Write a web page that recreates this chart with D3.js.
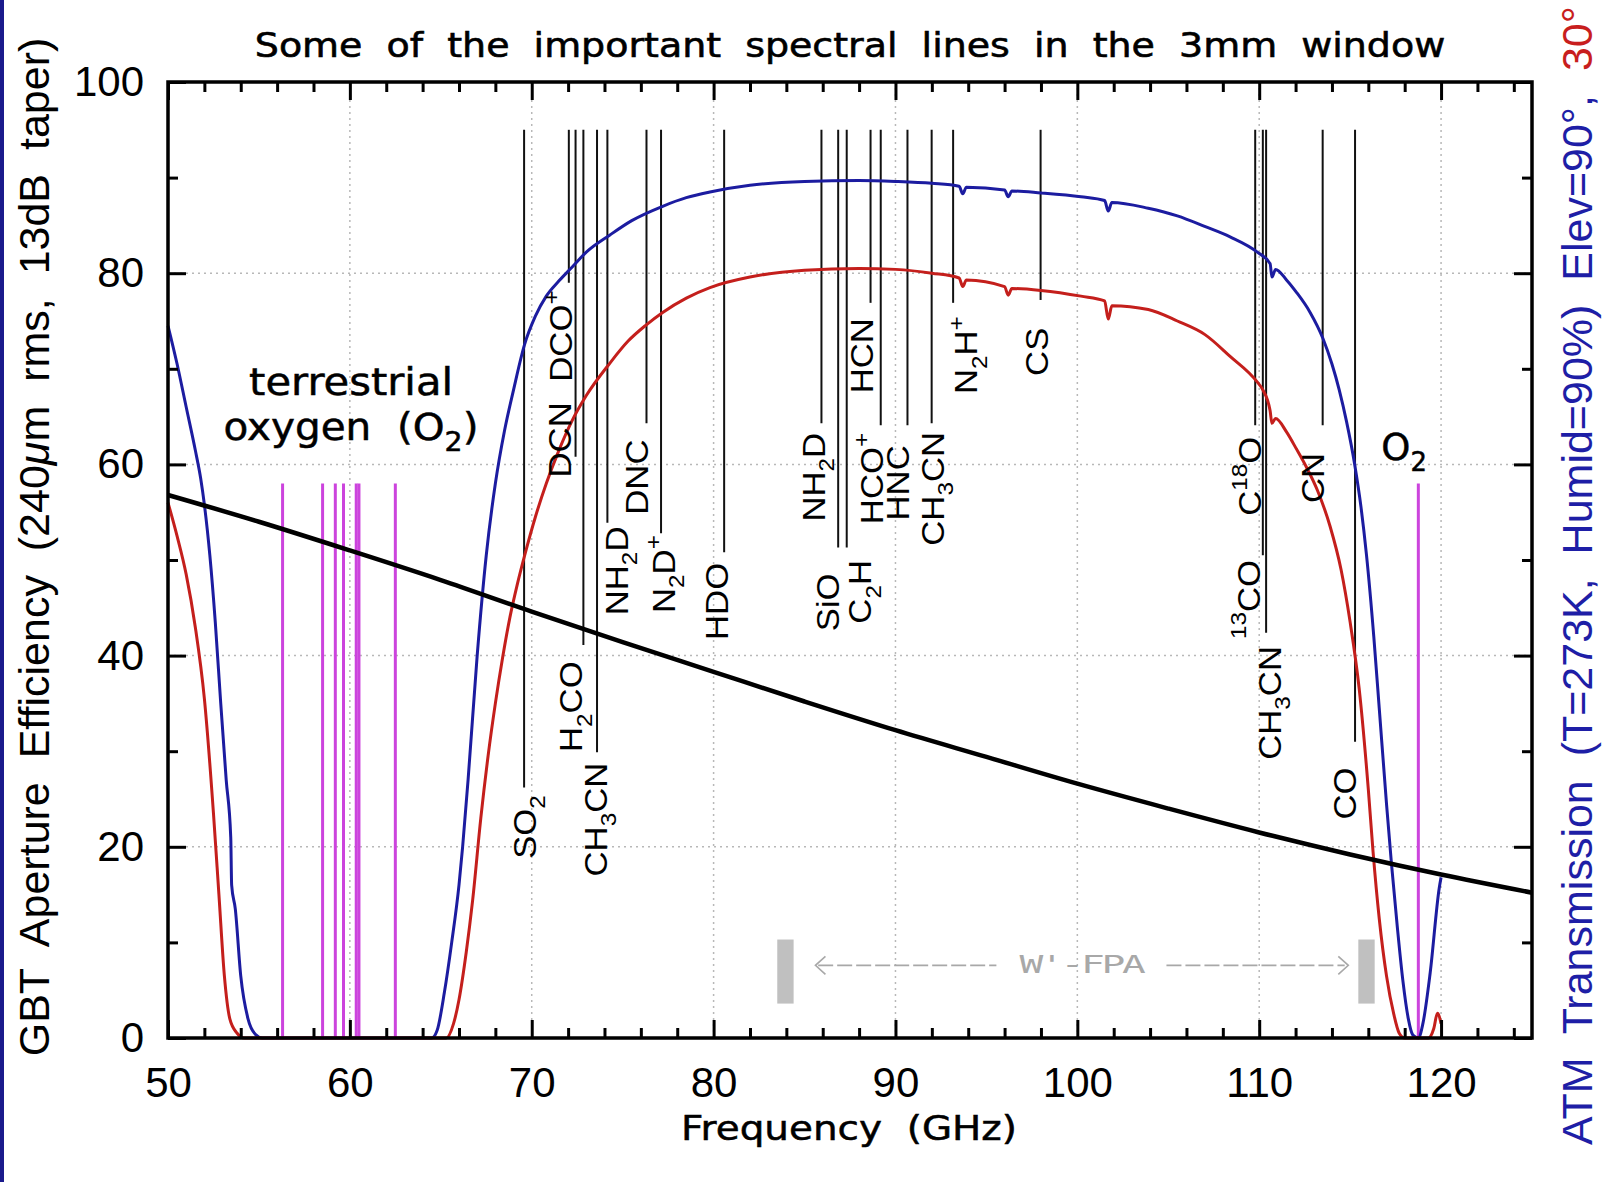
<!DOCTYPE html>
<html><head><meta charset="utf-8">
<script src="https://cdn.jsdelivr.net/npm/d3@7"></script>
<style>html,body{margin:0;padding:0;background:#fff;} svg{display:block;} text{white-space:pre;}</style>
</head><body>
<svg id="chart" width="1614" height="1182"></svg>
<script>
// ---------------- DATA ----------------
const effFreq   = [50,55,60,65,70,75,80,85,90,95,100,105,110,115,120,125];
const effValues = [56.8,54.0,51.0,47.9,44.6,41.4,38.3,35.2,32.2,29.4,26.6,24.0,21.5,19.2,17.1,15.2];

const atm90Freq = [50,50.5,51,51.5,51.8,52,52.3,52.6,52.9,53.2,53.45,53.5,53.7,54,54.4,54.8,55.2,
  64.5,64.8,65.2,65.6,66,66.2,66.5,67,67.5,68,68.5,69,69.6,70.2,70.8,71.5,72.2,73,74.3,75.5,77.2,78.5,79.8,82,85,88,90,92,
  93.5,93.7,93.9,96,96.2,96.4,98,100.2,101.5,101.7,101.9,103.9,105.5,107,108.4,109.9,110.6,110.7,110.9,
  111.5,112.05,112.8,113.5,114,114.4,114.8,115.25,115.6,115.9,116.3,116.6,117,117.27,117.6,117.9,118.2,118.45,118.75,119,119.4,119.9,120];
const atm90Values = [74.5,70.5,66,61.5,58.5,55.8,50.5,43.5,35,27,21,16,13.5,6.5,2,0.4,0,
  0,0.8,4.8,10,16,20,27,40,50.5,58,63.5,67.8,72.5,75.5,77.6,79.2,80.6,82.2,84,85.5,87,87.9,88.5,89.2,89.6,89.7,89.6,89.4,
  89.1,88.3,89,88.7,88,88.6,88.4,88,87.6,86.5,87.4,86.8,86,84.9,83.8,82.2,81,79.6,80.4,
  79.3,78,75.9,73.2,70.5,67.8,64.5,60,55.5,50.5,42,34.5,24.5,18.3,11.5,6,2,0.3,0,1.5,6.8,15.7,16.8];

const atm30Freq = [50,50.5,51,51.5,52,52.5,52.8,53.1,53.4,53.8,54.2,
  65.3,65.7,66,66.4,66.75,67.2,67.6,68,68.4,68.8,69.2,69.6,70.2,70.8,71.5,72.2,73,74.3,75.3,76.3,77.2,78.5,79.8,82,85,88,90,92,
  93.5,93.7,93.9,96,96.2,96.4,98,100.2,101.5,101.7,101.9,103.9,105.5,107,108.4,109.9,110.2,110.6,110.7,110.9,
  111.5,112.05,112.6,113.2,113.9,114.5,115,115.5,116,116.26,116.6,117,117.4,117.7,118,119.3,119.6,119.8,120];
const atm30Values = [56,52.5,48.5,43,35.5,23.5,15,6.5,2,0.5,0,
  0,1.5,4,9,14.4,23,29.5,35,39.8,44,47.4,50.4,54.5,58,61.5,64.5,67.2,70.6,72.9,74.6,75.9,77.4,78.5,79.6,80.3,80.5,80.4,80,
  79.5,78.6,79.3,78.6,77.7,78.4,78.2,77.6,77.1,75.2,76.6,76.2,75,73.6,71.3,68.6,67.8,65.6,64.3,64.8,
  63.4,61.6,59.7,57.3,53.5,49,43.5,36.5,26,19.5,12.5,6.5,2.5,0.5,0,0,1,2.6,1.5];

const o2Freq   = [56.3,58.5,59.2,59.65,60.35,60.5,62.5,118.75];
const o2Height = 58;

const molFreq      = [69.58,72.04,72.41,72.84,73.59,74.16,76.31,77.11,80.58,85.93,86.85,87.32,88.63,89.19,90.66,91.99,93.17,97.98,109.78,110.20,110.38,113.49,115.27];
const molNames     = ["SO_2","DCO^+","DCN","H_2CO","CH_3CN","NH_2D","DNC","N_2D^+","HDO","NH_2D","SiO","C_2H","HCN","HCO^+","HNC","CH_3CN","N_2H^+","CS","C^{18}O","^{13}CO","CH_3CN","CN","CO"];
const molLineEnd   = [26.2,79.0,60.8,41.1,29.9,53.9,64.3,52.8,50.8,64.3,51.3,51.3,76.9,64.1,64.1,64.3,76.9,77.2,64.1,50.5,42.4,64.1,31.0];
const molLabelTop  = [25.4,78.2,66.5,39.4,28.8,53.5,62.6,52.6,49.7,63.3,48.6,50.0,75.3,63.3,62.0,63.4,75.5,74.3,62.9,50.0,41.0,61.2,28.3];
const molLabelFreq = [69.63,71.63,71.55,72.18,73.53,74.66,75.81,77.27,80.2,85.51,86.31,88.07,88.18,88.7,90.13,92.06,93.9,97.75,109.5,109.43,110.58,112.95,114.7];
const molLineTop   = 95;

const fpaBands = [[83.5,84.4],[115.45,116.35]];
const fpaBandRange = [3.6,10.3];

const xMajor = [50,60,70,80,90,100,110,120];
const xTickLabels = ["50","60","70","80","90","100","110","120"];
const xMinor = d3.range(52,125,2).filter(v => v % 10 !== 0);
const yMajor = [0,20,40,60,80,100];
const yTickLabels = ["0","20","40","60","80","100"];
const yMinor = [10,30,50,70,90];
const xGrid = [60,70,80,90,100,110,120];
const yGrid = [20,40,60,80];

const titleText = "Some  of  the  important  spectral  lines  in  the  3mm  window";
const xLabelText = "Frequency  (GHz)";
const yLabelParts = [["GBT  Aperture  Efficiency  (240","normal"],["\u03bc","italic"],["m  rms,  13dB  taper)","normal"]];
const rightLabelParts = [["ATM  Transmission  (T=273K,  Humid=90%)  Elev=90\u00b0,  ","#1e1ea6"],["30\u00b0","#c81e1e"]];

// ---------------- DRAW ----------------
const svg = d3.select("#chart");
const x = d3.scaleLinear().domain([50,125]).range([168,1532]);
const y = d3.scaleLinear().domain([0,100]).range([1038,82]);

const BLUE = "#1c1ca0", RED = "#c41f1c", MAG = "#cc44dd";
const SANS = "'Liberation Sans', Arial, Helvetica, sans-serif";
const HERSHEY = "'DejaVu Sans', 'Liberation Sans', sans-serif";

svg.append("rect").attr("width",1614).attr("height",1182).attr("fill","#fff");
svg.append("rect").attr("x",0).attr("y",0).attr("width",4).attr("height",1182).attr("fill","#1a1a8c");

// grid
const grid = svg.append("g").attr("stroke","#b8b8b8").attr("stroke-width",1.5).attr("stroke-dasharray","2,4");
grid.selectAll(".gx").data(xGrid).join("line").attr("x1",d=>x(d)).attr("x2",d=>x(d)).attr("y1",y(0)).attr("y2",y(100));
grid.selectAll(".gy").data(yGrid).join("line").attr("y1",d=>y(d)).attr("y2",d=>y(d)).attr("x1",x(50)).attr("x2",x(125));

// W'-FPA bands
svg.append("g").selectAll("rect").data(fpaBands).join("rect")
  .attr("x",d=>x(d[0])).attr("width",d=>x(d[1])-x(d[0]))
  .attr("y",y(fpaBandRange[1])).attr("height",y(fpaBandRange[0])-y(fpaBandRange[1]))
  .attr("fill","#c0c0c0");

function fitText(g, target){
  const t = g.select("text");
  const w = t.node().getBBox().width;
  t.attr("transform", `scale(${target/w},1)`);
}
// W'-FPA annotation
{
  const FPA = "#a8a8a8";
  const ay = y(7.6);
  const fg = svg.append("g").attr("stroke",FPA).attr("stroke-width",1.6).attr("fill","none");
  fg.append("line").attr("x1",x(85.75)).attr("x2",x(95.55)).attr("y1",ay).attr("y2",ay).attr("stroke-dasharray","15,4");
  fg.append("line").attr("x1",x(104.9)).attr("x2",x(114.7)).attr("y1",ay).attr("y2",ay).attr("stroke-dasharray","15,4");
  fg.append("path").attr("d",`M${x(85.6)+10},${ay-9} L${x(85.6)},${ay} L${x(85.6)+10},${ay+9}`);
  fg.append("path").attr("d",`M${x(114.9)-10},${ay-9} L${x(114.9)},${ay} L${x(114.9)-10},${ay+9}`);
  const g = svg.append("g").attr("transform",`translate(${(x(96.7)+x(103.7))/2},${y(6.8)})`);
  g.append("text").attr("text-anchor","middle").attr("font-family","'DejaVu Sans Mono', monospace")
    .attr("font-size",24).attr("letter-spacing",-2).attr("fill",FPA).text("W'-FPA");
  fitText(g, x(103.7)-x(96.7));
}

// O2 magenta lines
svg.append("g").selectAll("line").data(o2Freq).join("line")
  .attr("x1",d=>x(d)).attr("x2",d=>x(d)).attr("y1",y(0)).attr("y2",y(o2Height))
  .attr("stroke",MAG).attr("stroke-width",3);

// molecular lines
svg.append("g").selectAll("line").data(molFreq).join("line")
  .attr("x1",d=>x(d)).attr("x2",d=>x(d)).attr("y1",y(molLineTop)).attr("y2",(d,i)=>y(molLineEnd[i]))
  .attr("stroke","#111").attr("stroke-width",2);

// curves
const line = d3.line().x(d=>x(d[0])).y(d=>y(d[1])).curve(d3.curveMonotoneX);
svg.append("path").datum(d3.zip(atm90Freq, atm90Values)).attr("d",line)
  .attr("fill","none").attr("stroke",BLUE).attr("stroke-width",3);
svg.append("path").datum(d3.zip(atm30Freq, atm30Values)).attr("d",line)
  .attr("fill","none").attr("stroke",RED).attr("stroke-width",3);
svg.append("path").datum(d3.zip(effFreq, effValues)).attr("d",line.curve(d3.curveCatmullRom))
  .attr("fill","none").attr("stroke","#000").attr("stroke-width",4.5);

// rich text helper
function parseLabel(s){
  const parts=[]; let i=0;
  while(i<s.length){
    const c=s[i];
    if(c==='_'||c==='^'){
      let t;
      if(s[i+1]==='{'){ const j=s.indexOf('}',i); t=s.slice(i+2,j); i=j+1; }
      else { t=s[i+1]; i+=2; }
      parts.push({t, shift: c==='_'?1:-1});
    } else {
      let j=i; while(j<s.length && s[j]!=='_' && s[j]!=='^') j++;
      parts.push({t:s.slice(i,j), shift:0}); i=j;
    }
  }
  return parts;
}
function addRich(textSel, str, fs){
  let cur=0;
  parseLabel(str).forEach(p=>{
    const target = p.shift===1 ? 0.3*fs : (p.shift===-1 ? -0.45*fs : 0);
    textSel.append("tspan").attr("font-size", p.shift ? fs*0.7 : fs).attr("dy", target-cur).text(p.t);
    cur = target;
  });
}

// molecule labels (rotated, centred on label frequency)
const molFS = 31, capH = 0.716*molFS;
molFreq.forEach((f,i)=>{
  const t = svg.append("text")
    .attr("transform",`translate(${x(molLabelFreq[i])+capH/2},${y(molLabelTop[i])}) rotate(-90) scale(1.12,1)`)
    .attr("text-anchor","end").attr("font-family",SANS).attr("font-size",molFS).attr("fill","#000");
  addRich(t, molNames[i], molFS);
});

// terrestrial oxygen
{
  const g1 = svg.append("g").attr("transform",`translate(${351},${395})`);
  g1.append("text").attr("text-anchor","middle").attr("font-family",HERSHEY).attr("font-size",37)
    .attr("stroke","#000").attr("stroke-width",0.5).text("terrestrial");
  fitText(g1, 204);
  const g2 = svg.append("g").attr("transform",`translate(${351},${440})`);
  const t2 = g2.append("text").attr("text-anchor","middle").attr("font-family",HERSHEY).attr("font-size",37)
    .attr("stroke","#000").attr("stroke-width",0.5);
  addRich(t2, "oxygen  (O_2)", 37);
  fitText(g2, 255);
}
// O2 label near 118.75
{
  const t = svg.append("text").attr("x", x(118.75)-37).attr("y", 460)
    .attr("font-family",HERSHEY).attr("font-size",37).attr("fill","#000").attr("stroke","#000").attr("stroke-width",0.5);
  addRich(t, "O_2", 37);
}

// axes
function styleAxis(g){
  g.select(".domain").remove();
  g.selectAll(".tick line").attr("stroke","#000").attr("stroke-width",3);
  g.selectAll(".tick text").attr("font-family",SANS).attr("font-size",42).attr("fill","#000");
}
svg.append("g").attr("transform",`translate(0,${y(0)})`)
  .call(d3.axisBottom(x).tickValues(xMajor).tickSize(-18).tickPadding(29).tickFormat(d=>xTickLabels[xMajor.indexOf(d)])).call(styleAxis);
svg.append("g").attr("transform",`translate(0,${y(0)})`)
  .call(d3.axisBottom(x).tickValues(xMinor).tickSize(-10).tickFormat("")).call(styleAxis);
svg.append("g").attr("transform",`translate(0,${y(100)})`)
  .call(d3.axisTop(x).tickValues(xMajor).tickSize(-18).tickFormat("")).call(styleAxis);
svg.append("g").attr("transform",`translate(0,${y(100)})`)
  .call(d3.axisTop(x).tickValues(xMinor).tickSize(-10).tickFormat("")).call(styleAxis);
svg.append("g").attr("transform",`translate(${x(50)},0)`)
  .call(d3.axisLeft(y).tickValues(yMajor).tickSize(-18).tickPadding(24).tickFormat(d=>yTickLabels[yMajor.indexOf(d)])).call(styleAxis);
svg.append("g").attr("transform",`translate(${x(50)},0)`)
  .call(d3.axisLeft(y).tickValues(yMinor).tickSize(-10).tickFormat("")).call(styleAxis);
svg.append("g").attr("transform",`translate(${x(125)},0)`)
  .call(d3.axisRight(y).tickValues(yMajor).tickSize(-18).tickFormat("")).call(styleAxis);
svg.append("g").attr("transform",`translate(${x(125)},0)`)
  .call(d3.axisRight(y).tickValues(yMinor).tickSize(-10).tickFormat("")).call(styleAxis);

// frame
svg.append("rect").attr("x",x(50)).attr("y",y(100)).attr("width",x(125)-x(50)).attr("height",y(0)-y(100))
  .attr("fill","none").attr("stroke","#000").attr("stroke-width",3.5);

// title
{
  const g = svg.append("g").attr("transform",`translate(850,57)`);
  g.append("text").attr("text-anchor","middle").attr("font-family",HERSHEY).attr("font-size",34).attr("fill","#000")
    .attr("stroke","#000").attr("stroke-width",0.6).text(titleText);
  fitText(g, 1191);
}
// x label
{
  const g = svg.append("g").attr("transform",`translate(849,1140)`);
  g.append("text").attr("text-anchor","middle").attr("font-family",HERSHEY).attr("font-size",34).attr("fill","#000")
    .attr("stroke","#000").attr("stroke-width",0.5).text(xLabelText);
  fitText(g, 336);
}
// y label (left)
{
  const t = svg.append("text").attr("transform",`translate(49,547) rotate(-90)`).attr("text-anchor","middle")
    .attr("font-family",SANS).attr("font-size",43).attr("fill","#000");
  yLabelParts.forEach(p=> t.append("tspan").attr("font-style",p[1]).text(p[0]));
}
// right label
{
  const t = svg.append("text").attr("transform",`translate(1592,1145) rotate(-90)`).attr("text-anchor","start")
    .attr("font-family",SANS).attr("font-size",43);
  rightLabelParts.forEach(p=> t.append("tspan").attr("fill",p[1]).text(p[0]));
}
</script>
</body></html>
